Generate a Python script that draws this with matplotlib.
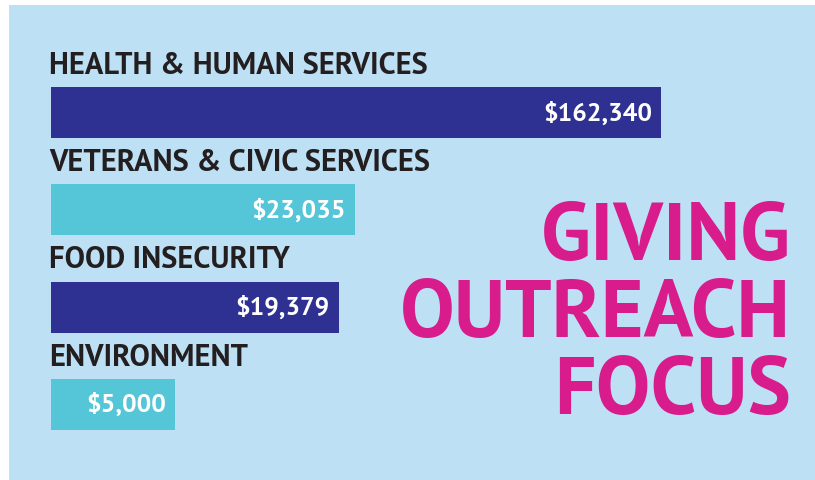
import matplotlib
matplotlib.use("Agg")
import matplotlib.pyplot as plt
from matplotlib.patches import Rectangle

categories = ["HEALTH & HUMAN SERVICES", "VETERANS & CIVIC SERVICES",
              "FOOD INSECURITY", "ENVIRONMENT"]
amounts = [162340, 23035, 19379, 5000]
# bar lengths as drawn in the graphic (% of the longest bar, not to scale)
bar_lengths = [100, 49.8, 47.2, 20.3]
title_lines = ["GIVING", "OUTREACH", "FOCUS"]

navy = "#2e3191"
cyan = "#55c5d8"
colors = [navy, cyan, navy, cyan]

fig = plt.figure(figsize=(8.15, 4.8), dpi=100, facecolor="white")
fig.patches.append(Rectangle((9 / 815, 0), 1, 1 - 5 / 480, transform=fig.transFigure,
                             facecolor="#bde0f5", edgecolor="none", zorder=-1))

ax = fig.add_axes([51 / 815, 0, 610 / 815, 1])
ax.set_facecolor("none")
y = list(range(len(categories)))
ax.barh(y, bar_lengths, height=0.525, color=colors, left=0)
ax.set_xlim(0, 100)
ax.set_ylim(3.776, -1.156)
ax.axis("off")

for yi, cat, amt, w in zip(y, categories, amounts, bar_lengths):
    ax.text(-0.3, yi - 0.40, cat, family="PT Sans", weight="bold", fontsize=22,
            color="#231f20", va="baseline", ha="left")
    ax.text(w - 1.5, yi + 0.08, f"${amt:,}", family="PT Sans", weight="bold",
            fontsize=18.5, color="white", va="baseline", ha="right")

for i, line in enumerate(title_lines):
    fig.text(791 / 815, 1 - (260 + 77 * i) / 480, line, family="PT Sans",
             weight="bold", fontsize=59, color="#d91c8c", ha="right", va="baseline")

fig.savefig("out.png", dpi=100)
